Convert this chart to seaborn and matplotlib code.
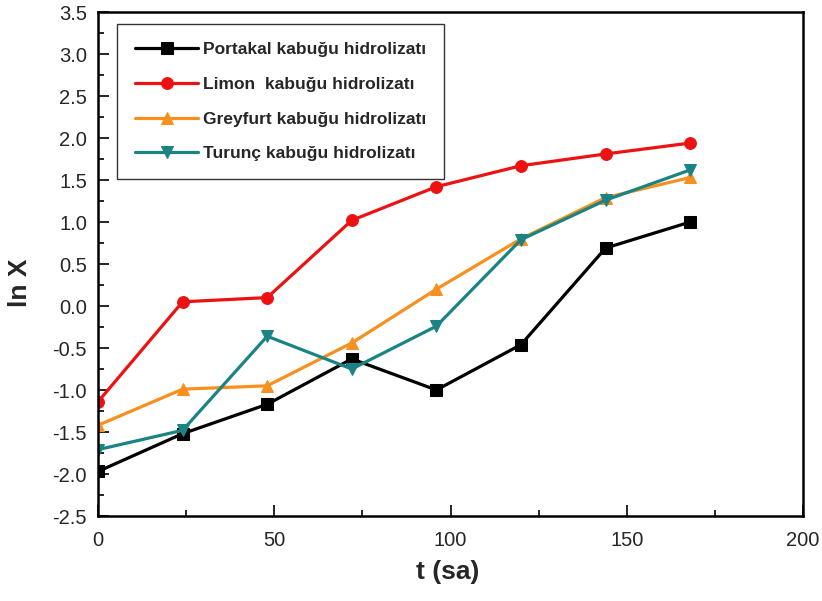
import matplotlib
matplotlib.use("Agg")
import matplotlib.pyplot as plt
from matplotlib.ticker import MultipleLocator, FormatStrFormatter
import seaborn as sns
import pandas as pd

# Sampling times (hours) and ln X for each peel hydrolysate
t_sa = [0, 24, 48, 72, 96, 120, 144, 168]
portakal = [-1.97, -1.52, -1.17, -0.63, -1.00, -0.46, 0.69, 1.00]
limon = [-1.14, 0.05, 0.10, 1.02, 1.42, 1.67, 1.81, 1.94]
greyfurt = [-1.42, -0.99, -0.95, -0.44, 0.20, 0.80, 1.29, 1.53]
turunc = [-1.71, -1.48, -0.36, -0.75, -0.24, 0.79, 1.26, 1.62]

labels = ["Portakal kabuğu hidrolizatı", "Limon  kabuğu hidrolizatı",
          "Greyfurt kabuğu hidrolizatı", "Turunç kabuğu hidrolizatı"]
colors = ["#000000", "#EE1111", "#F7901E", "#1A8383"]
markers = ["s", "o", "^", "v"]

sns.set_style("white")
plt.rcParams["font.family"] = ["Liberation Sans", "DejaVu Sans"]

fig = plt.figure(figsize=(8.22, 6.01), dpi=100)
ax = fig.add_axes([98 / 822, 1 - 516 / 601, (803 - 98) / 822, (516 - 12) / 601])

series = [portakal, limon, greyfurt, turunc]
for vals, lab, col, mk in zip(series, labels, colors, markers):
    df = pd.DataFrame({"t": t_sa, "lnX": vals})
    sns.lineplot(data=df, x="t", y="lnX", ax=ax, color=col, marker=mk,
                 markersize=8.5, markeredgecolor=col, linewidth=2.3, label=lab)

ax.set_xlim(0, 200)
ax.set_ylim(-2.5, 3.5)
ax.xaxis.set_major_locator(MultipleLocator(50))
ax.xaxis.set_minor_locator(MultipleLocator(25))
ax.yaxis.set_major_locator(MultipleLocator(0.5))
ax.yaxis.set_minor_locator(MultipleLocator(0.25))
ax.yaxis.set_major_formatter(FormatStrFormatter("%.1f"))
ax.tick_params(axis="both", which="major", direction="in", length=8, width=1.4,
               labelsize=14.5, bottom=True, left=True, top=False, right=False)
ax.tick_params(axis="both", which="minor", direction="in", length=4.5, width=1.4,
               bottom=True, left=True, top=False, right=False)
ax.tick_params(axis="x", which="major", pad=11)
ax.tick_params(axis="y", which="major", pad=8)
for sp in ax.spines.values():
    sp.set_linewidth(1.8)
    sp.set_color("black")

ax.set_xlabel("t (sa)", fontsize=19, fontweight="bold")
ax.set_ylabel("ln X", fontsize=19, fontweight="bold")
ax.xaxis.set_label_coords(0.496, -0.088)
ax.yaxis.set_label_coords(-0.094, 0.462)

leg = ax.legend(loc="upper left", bbox_to_anchor=(0.027, 0.976), borderaxespad=0,
                frameon=True, fancybox=False, edgecolor="black", handlelength=3.6,
                prop={"weight": "bold", "size": 12.5}, borderpad=1.05,
                labelspacing=1.12, handletextpad=0.3)
leg.get_frame().set_linewidth(1.0)

fig.savefig("out.png", dpi=100)
